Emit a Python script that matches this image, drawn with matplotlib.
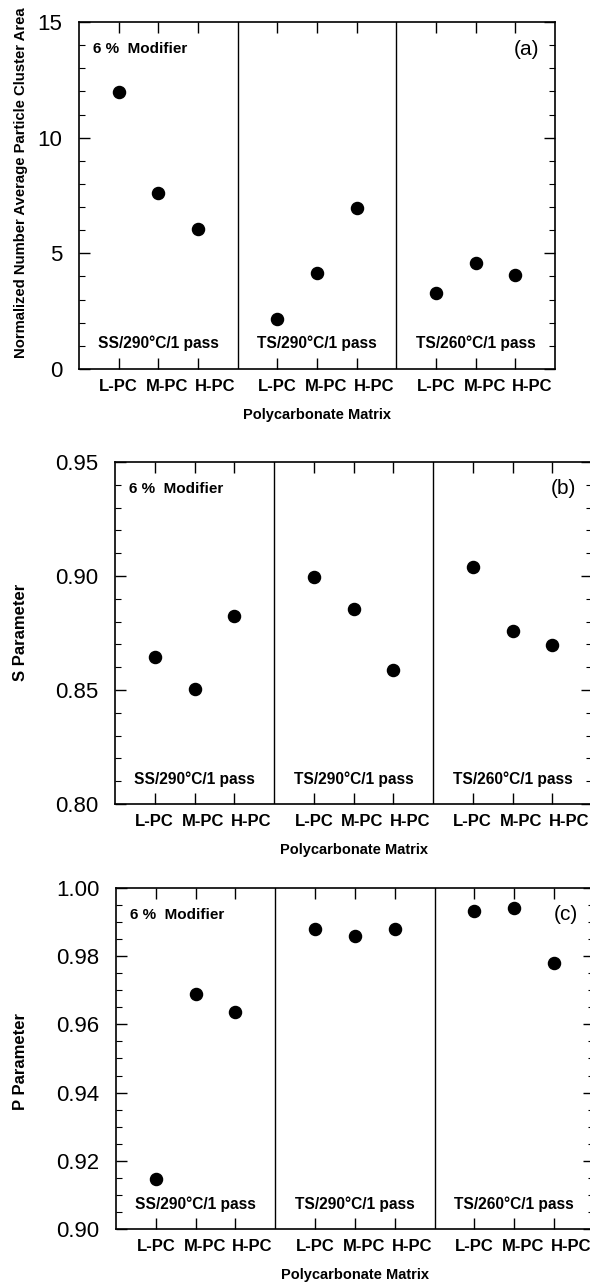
import matplotlib
matplotlib.use("Agg")
import matplotlib.pyplot as plt
from matplotlib.ticker import MultipleLocator, FormatStrFormatter

plt.rcParams['font.family'] = ['Liberation Sans', 'DejaVu Sans']

# data
grades = ['L-PC', 'M-PC', 'H-PC']
conditions = ['SS/290°C/1 pass', 'TS/290°C/1 pass', 'TS/260°C/1 pass']

cluster_area = [[11.96, 7.59, 6.04],
                [2.15, 4.17, 6.95],
                [3.27, 4.57, 4.07]]
s_param = [[0.8646, 0.8506, 0.8826],
           [0.8997, 0.8857, 0.8588],
           [0.9039, 0.8759, 0.8699]]
p_param = [[0.9148, 0.9688, 0.9637],
           [0.9879, 0.9860, 0.9879],
           [0.9932, 0.9941, 0.9781]]

W, H = 590, 1284
fig = plt.figure(figsize=(W / 100, H / 100), dpi=100)


def box(l, r, t, b):
    return [l / W, (H - b) / H, (r - l) / W, (b - t) / H]


panels = [
    (box(79, 555, 22, 369), cluster_area, (0, 15), 5, 1, '%d',
     'Normalized Number Average Particle Cluster Area', '(a)', 10.7,
     (-0.107, 0.536)),
    (box(115, 592, 462, 804), s_param, (0.80, 0.95), 0.05, 0.01, '%.2f',
     'S Parameter', '(b)', 12, (-0.183, 0.503)),
    (box(116, 594, 888, 1229), p_param, (0.90, 1.00), 0.02, 0.005, '%.2f',
     'P Parameter', '(c)', 12, (-0.185, 0.49)),
]

# the category names sit a little to the right of their ticks in the original
label_shift = [0, 9, 17]

for rect, vals, ylim, major, minor, fmt, ylabel, tag, ylsize, ylpos in panels:
    ax = fig.add_axes(rect)
    xs, ys = [], []
    for i, grp in enumerate(vals):
        for j, v in enumerate(grp):
            xs.append(4 * i + j + 1)
            ys.append(v)
            ax.annotate(grades[j], xy=(4 * i + j + 1, 0),
                        xycoords=ax.get_xaxis_transform(),
                        xytext=(label_shift[j], -10), textcoords='offset pixels',
                        ha='center', va='top', fontsize=12, fontweight='bold')
    ax.plot(xs, ys, 'o', color='black', ms=8.7, linestyle='none')
    for d in (4, 8):
        ax.axvline(d, color='black', lw=1.0)
    for i, c in enumerate(conditions):
        ax.text(4 * i + 2, 0.073, c, transform=ax.get_xaxis_transform(),
                ha='center', va='center', fontsize=11.2, fontweight='bold')
    ax.text(0.35, 0.922, '6 %  Modifier', transform=ax.get_xaxis_transform(),
            ha='left', va='center', fontsize=11, fontweight='bold')
    ax.text(11.6, 0.922, tag, transform=ax.get_xaxis_transform(),
            ha='right', va='center', fontsize=15)

    ax.set_xlim(0, 12)
    ax.set_ylim(*ylim)
    ax.set_xticks(xs)
    ax.set_xticklabels([])
    ax.yaxis.set_major_locator(MultipleLocator(major))
    ax.yaxis.set_minor_locator(MultipleLocator(minor))
    ax.yaxis.set_major_formatter(FormatStrFormatter(fmt))
    ax.tick_params(axis='y', which='major', direction='in', length=8, width=1,
                   right=True, labelsize=16, pad=12)
    ax.tick_params(axis='y', which='minor', direction='in', length=4, width=0.8,
                   right=True)
    ax.tick_params(axis='x', direction='in', length=8, width=1, top=True, pad=8)
    for sp in ax.spines.values():
        sp.set_linewidth(1.2)
    ax.set_xlabel('Polycarbonate Matrix', fontsize=10.5, fontweight='bold',
                  labelpad=20)
    ax.set_ylabel(ylabel, fontsize=ylsize, fontweight='bold')
    ax.yaxis.set_label_coords(*ylpos)

fig.savefig('out.png', dpi=100)
